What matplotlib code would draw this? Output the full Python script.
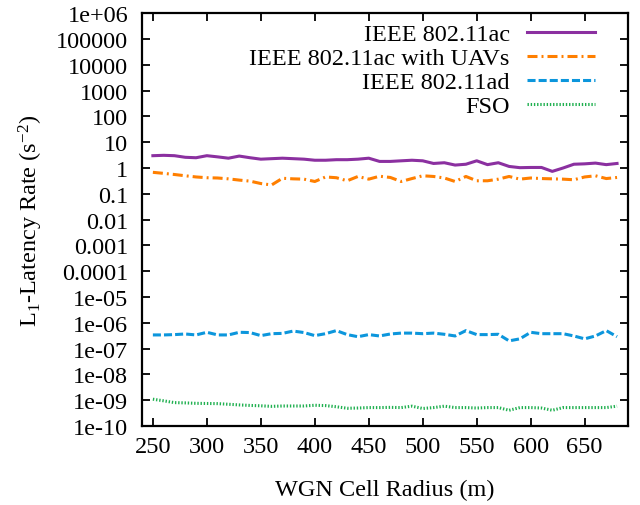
import numpy as np
import matplotlib
matplotlib.use('Agg')
import matplotlib.pyplot as plt
from matplotlib.ticker import FuncFormatter, NullLocator

# WGN cell radius (m)
radius = np.arange(250, 681, 10)

ac = [3.0, 3.1, 3.0, 2.6, 2.5, 3.0, 2.7, 2.4, 2.9, 2.5, 2.2, 2.3, 2.4, 2.3, 2.2, 2.0,
      2.0, 2.1, 2.1, 2.2, 2.4, 1.8, 1.8, 1.9, 2.0, 1.9, 1.5, 1.6, 1.3, 1.4, 1.9,
      1.35, 1.6, 1.15, 1.03, 1.05, 1.05, 0.74, 1.0, 1.4, 1.45, 1.55, 1.35, 1.5]
ac_uav = [0.68, 0.62, 0.56, 0.5, 0.45, 0.42, 0.41, 0.38, 0.34, 0.31, 0.25, 0.22, 0.4, 0.38,
          0.37, 0.3, 0.45, 0.42, 0.32, 0.47, 0.37, 0.48, 0.43, 0.3, 0.39, 0.5, 0.47, 0.41,
          0.3, 0.47, 0.32, 0.32, 0.37, 0.47, 0.37, 0.41, 0.39, 0.38, 0.37, 0.35, 0.45, 0.5,
          0.39, 0.43]
ad = [3.4e-7, 3.4e-7, 3.5e-7, 3.7e-7, 3.4e-7, 4.3e-7, 3.4e-7, 3.4e-7, 4.3e-7, 4.2e-7,
      3.2e-7, 3.8e-7, 3.9e-7, 4.8e-7, 4.2e-7, 3.2e-7, 3.8e-7, 5.0e-7, 3.5e-7, 2.9e-7,
      3.5e-7, 3.1e-7, 3.7e-7, 4.0e-7, 4.0e-7, 3.8e-7, 4.0e-7, 3.6e-7, 3.1e-7, 5.0e-7,
      3.5e-7, 3.5e-7, 3.6e-7, 2.0e-7, 2.4e-7, 4.3e-7, 3.8e-7, 3.8e-7, 3.8e-7, 3.1e-7,
      2.4e-7, 3.1e-7, 5.0e-7, 2.9e-7]
fso = [1.1e-9, 9.5e-10, 8.1e-10, 7.9e-10, 7.6e-10, 7.5e-10, 7.4e-10, 7.0e-10, 6.6e-10,
       6.3e-10, 6.1e-10, 5.8e-10, 6.0e-10, 6.0e-10, 6.0e-10, 6.4e-10, 6.2e-10, 5.6e-10,
       4.9e-10, 5.0e-10, 5.2e-10, 5.2e-10, 5.3e-10, 5.2e-10, 5.9e-10, 4.8e-10, 5.2e-10,
       5.9e-10, 5.2e-10, 5.2e-10, 5.0e-10, 5.2e-10, 5.2e-10, 4.1e-10, 5.2e-10, 5.2e-10,
       5.0e-10, 4.1e-10, 5.2e-10, 5.2e-10, 5.2e-10, 5.2e-10, 5.2e-10, 5.9e-10]

labels = ['IEEE 802.11ac', 'IEEE 802.11ac with UAVs', 'IEEE 802.11ad', 'FSO']
xticks = [250, 300, 350, 400, 450, 500, 550, 600, 650]
yticks = [10.0 ** k for k in range(-10, 7)]

plt.rcParams['font.family'] = ['Liberation Serif', 'DejaVu Serif']
plt.rcParams['font.size'] = 17.5
plt.rcParams['mathtext.fontset'] = 'custom'
plt.rcParams['mathtext.rm'] = 'Liberation Serif'
plt.rcParams['mathtext.it'] = 'Liberation Serif:italic'
plt.rcParams['lines.scale_dashes'] = False

fig = plt.figure(figsize=(6.4, 5.06), dpi=100)
ax = fig.add_axes([0.222, 0.156, 0.759, 0.816])

lw = 2.2
ax.plot(radius, ac, color='#8b30a0', lw=lw, label=labels[0])
ax.plot(radius, ac_uav, color='#ff7f00', lw=lw, dashes=(7.2, 2.9, 1.4, 2.9), label=labels[1])
ax.plot(radius, ad, color='#0c96dc', lw=lw, dashes=(5.8, 2.2), label=labels[2])
ax.plot(radius, fso, color='#20b050', lw=lw, dashes=(1.0, 1.3), label=labels[3])

ax.set_yscale('log')
ax.set_xlim(240, 690)
ax.set_ylim(1e-10, 1e6)
ax.set_xticks(xticks)
ax.set_yticks(yticks)
ax.yaxis.set_major_formatter(FuncFormatter(lambda v, p: '%g' % v))
ax.yaxis.set_minor_locator(NullLocator())
ax.tick_params(which='both', direction='in', top=True, right=True, length=6, width=1.3)
ax.tick_params(axis='y', pad=10)
ax.tick_params(axis='x', pad=7)
for s in ax.spines.values():
    s.set_linewidth(1.6)

ax.set_xlabel('WGN Cell Radius (m)', labelpad=16)
ax.set_ylabel('L$_1$-Latency Rate (s$^{-2}$)', labelpad=8)

ax.legend(loc='upper right', bbox_to_anchor=(0.932, 0.976), frameon=False,
          markerfirst=False, handlelength=2.8, handletextpad=0.7,
          labelspacing=0.083, borderpad=0, borderaxespad=0)

fig.savefig('out.png', dpi=100)
